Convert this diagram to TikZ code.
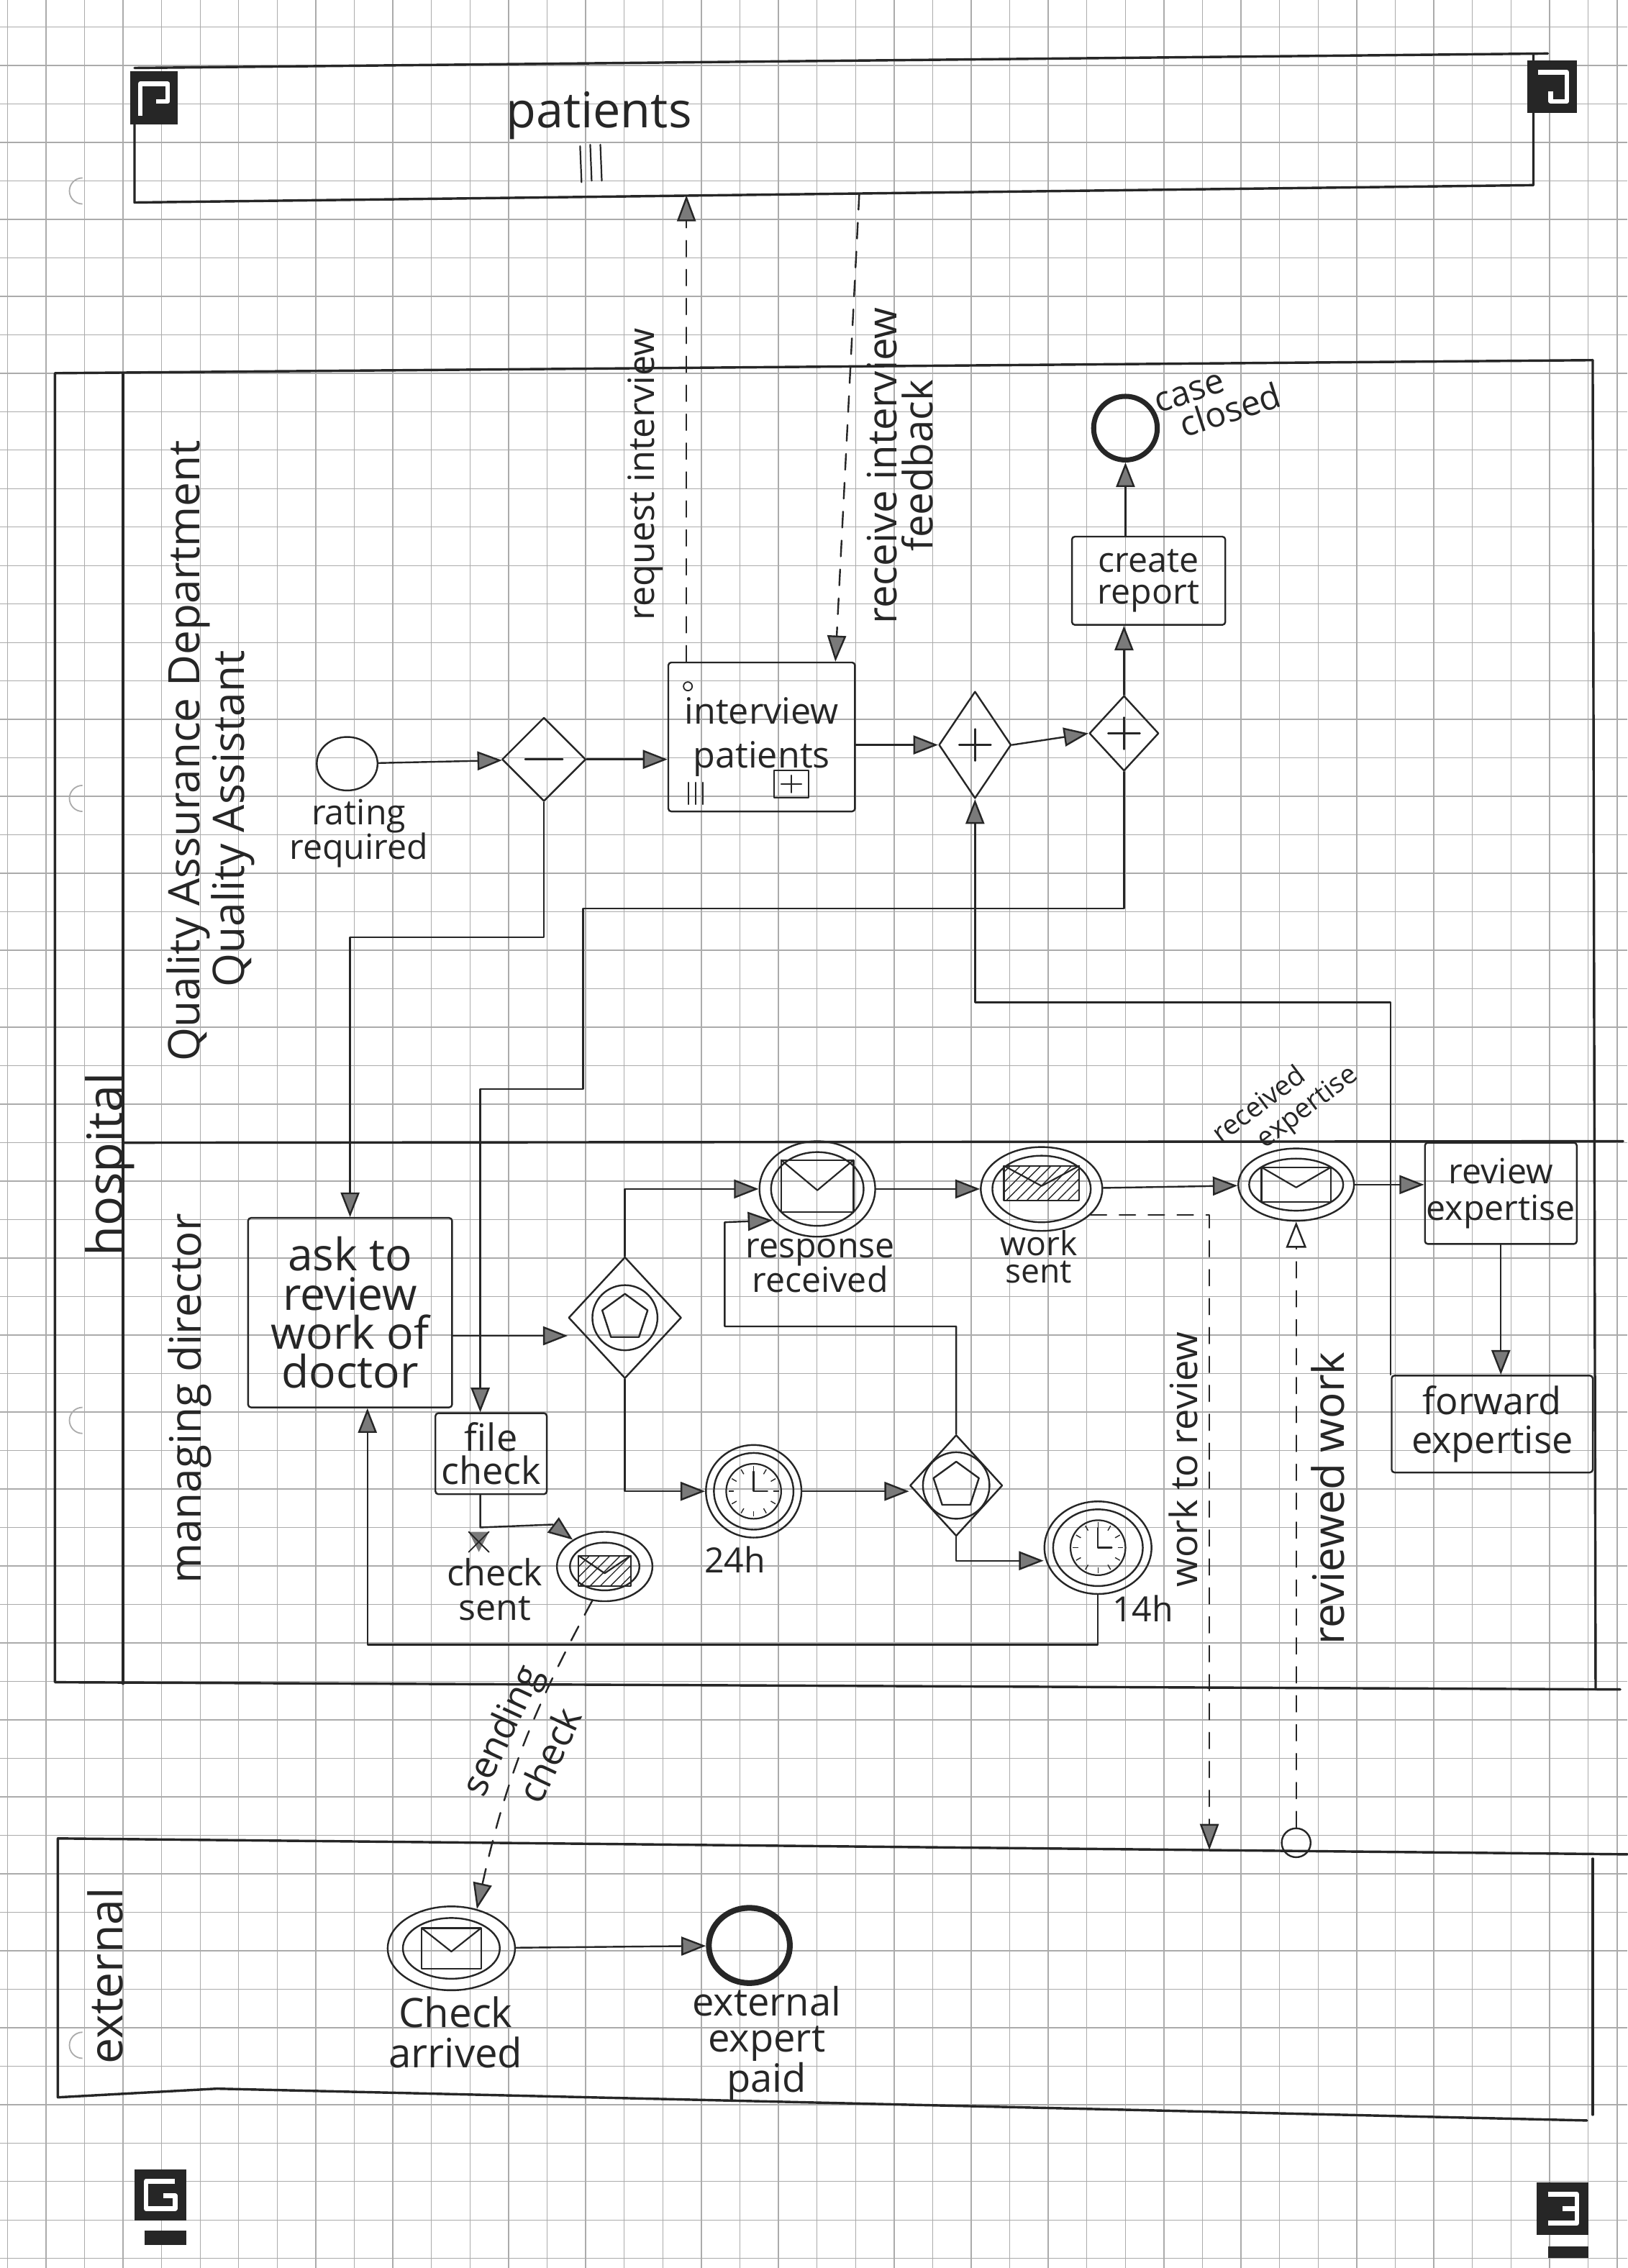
\documentclass[tikz,border=0pt]{standalone}
\usepackage{fontspec}
\setmainfont{Open Sans}
\newfontfamily\hand{Open Sans}
\usetikzlibrary{arrows.meta,shapes.geometric,patterns.meta}

\definecolor{ink}{HTML}{262626}
\definecolor{gridc}{HTML}{ABABAB}
\definecolor{hatchc}{HTML}{7A7A7A}

\tikzset{
  pen/.style={draw=ink, line width=1.2pt, line cap=round, line join=round},
  poolline/.style={draw=ink, line width=1.7pt, line cap=round, line join=round},
  seq/.style={pen, -{Triangle[length=17pt,width=13pt,fill=hatchc]}},
  msg/.style={pen, dash pattern=on 11pt off 9pt, -{Triangle[length=18pt,width=13pt,fill=hatchc]}},
  msgopen/.style={pen, dash pattern=on 11pt off 9pt, -{Triangle[length=18pt,width=14pt,fill=white]}},
  fs/.style 2 args={font=\hand\fontsize{#1}{#2}\selectfont},
  lbl/.style={inner sep=0pt, align=center, text=ink},
  taskbox/.style={pen, rectangle, rounded corners=2pt, inner sep=0pt},
  evt/.style={pen, ellipse, inner sep=0pt},
  gate/.style={pen, diamond, inner sep=0pt, aspect=1},
  penta/.style={pen, regular polygon, regular polygon sides=5, inner sep=0pt},
  hatched/.style={pattern={Lines[angle=45,distance=5pt,line width=0.7pt]}, pattern color=ink},
  pics/envl/.style n args={3}{code={
    \draw[pen, line width=1.1pt, #3] (-#1/2,-#2/2) rectangle (#1/2,#2/2);
    \draw[pen, line width=1.1pt] (-#1/2,-#2/2) -- (0,{0.08*#2}) -- (#1/2,-#2/2);
  }},
  pics/clockface/.style={code={
    \draw[pen, line width=1.1pt] (0,0) circle[radius=#1];
    \foreach \a in {0,30,...,330}
      \draw[ink, line width=0.7pt] (\a:{0.72*#1}) -- (\a:{0.92*#1});
    \draw[pen] (0,{-0.72*#1}) -- (0,0) -- ({0.5*#1},0);
  }},
  plusmark/.style={pen, line width=1.2pt},
}

\begin{document}
\begin{tikzpicture}[x=1pt,y=-1pt]
\useasboundingbox (0,0) rectangle (1125,1568);
\fill[white] (0,0) rectangle (1125,1568);

% squared paper
\foreach \i in {0,...,41}
  \draw[gridc, line width=0.7pt] ({5.1+26.65*\i},0) -- ({5.1+26.65*\i},1568);
\foreach \j in {0,...,58}
  \draw[gridc, line width=0.7pt] (0,{18.6+26.6*\j}) -- (1125,{18.6+26.6*\j});
\draw[gridc, line width=0.7pt] (1118,0) -- (1118,1568);
\foreach \h in {150,570,1000,1432}
  \draw[gridc, line width=0.9pt] (57,{\h-9}) arc[start angle=90,end angle=270,radius=9];

% ---------- pool: patients (collapsed) ----------
\draw[poolline] (93,86) -- (93,140) -- (1060,128) -- (1060,38);
\draw[poolline] (93,47) -- (1070,37);
\node[lbl, fs={34}{34}] (lpat) at (414,80) {patients};
\draw[pen, line width=1.1pt] (401,101) -- (402,126) (408,100) -- (409,125) (415,100) -- (416,125);

% ---------- pool: hospital ----------
\draw[poolline] (1101,249) -- (38,258) -- (38,1163) -- (1120,1168);
\draw[poolline] (85,258) -- (85,1164);
\draw[poolline] (85,790) -- (1122,789);
\draw[poolline] (1101,249) -- (1103,1168);
\node[lbl, fs={34}{34}, rotate=90] (lhosp) at (76,805) {hospital};
\node[lbl, fs={30}{31}, rotate=90, align=left] (lqa) at (145.5,519)
  {Quality Assurance Department\\\hspace*{51pt}Quality Assistant};
\node[lbl, fs={30}{30}, rotate=90] (lmd) at (131,967) {managing director};

% ---------- pool: external ----------
\draw[poolline] (1125,1282) -- (40,1271) -- (40,1450) -- (150,1444) -- (1097,1466);
\draw[poolline] (1101,1285) -- (1101,1462);
\node[lbl, fs={32}{32}, rotate=90] (lext) at (73,1366) {external};

% ---------- quality assistant lane ----------
\node[evt, minimum width=42pt, minimum height=37pt] (st) at (240,528) {};
\node[lbl, fs={24}{24}] (stl) at (248,576) {rating\\required};

\node[gate, minimum width=58pt, minimum height=58pt] (gw1) at (376,525) {};
\draw[plusmark] ([xshift=-13pt]gw1.center) -- ([xshift=13pt]gw1.center);

\node[taskbox, minimum width=129pt, minimum height=103pt, lbl, fs={25}{30}] (ip) at (526.5,509.5) {interview\\patients};
\draw[pen, line width=1pt] (476,541) -- (476,556) (481,541) -- (481,556) (486,541) -- (486,556);
\node[pen, rectangle, minimum width=24pt, minimum height=19pt, inner sep=0pt] (ipsub) at (547,542) {};
\draw[pen, line width=1pt] ([xshift=-7pt]ipsub.center) -- ([xshift=7pt]ipsub.center)
  ([yshift=-6pt]ipsub.center) -- ([yshift=6pt]ipsub.center);
\draw[pen, line width=0.9pt] (475.5,474.5) circle[radius=3];

\node[gate, minimum width=50pt, minimum height=74pt] (gw2) at (674,515) {};
\draw[plusmark] ([xshift=-11pt]gw2.center) -- ([xshift=11pt]gw2.center)
  ([yshift=-11pt]gw2.center) -- ([yshift=11pt]gw2.center);
\node[gate, minimum width=48pt, minimum height=52pt] (gw3) at (777,507) {};
\draw[plusmark] ([xshift=-11pt]gw3.center) -- ([xshift=11pt]gw3.center)
  ([yshift=-11pt]gw3.center) -- ([yshift=11pt]gw3.center);

\node[taskbox, minimum width=106pt, minimum height=61pt, lbl, fs={24}{22}] (cr) at (794,401.5) {create\\report};
\node[evt, line width=3.5pt, minimum size=44pt] (ec) at (778,296) {};
\node[lbl, fs={24}{22}, rotate=18, align=left] (ecl) at (842,277) {case\\\hspace*{12pt}closed};

\node[lbl, fs={25}{25}, rotate=90] (lreq) at (446,328) {request interview};
\node[lbl, fs={28}{25}, rotate=90] (lrcv) at (622,322) {receive interview\\feedback};

% ---------- managing director lane ----------
\node[taskbox, minimum width=141pt, minimum height=131pt, lbl, fs={31}{27}] (ask) at (242,907.5) {ask to\\review\\work of\\doctor};

\node[gate, minimum width=78pt, minimum height=84pt] (eg1) at (432,911) {};
\node[evt, minimum size=45pt] (eg1c) at (eg1) {};
\node[penta, minimum size=33pt] (eg1p) at (eg1) {};

\node[evt, minimum width=66pt, minimum height=64pt] (t24) at (521,1031) {};
\node[evt, minimum width=55pt, minimum height=53pt] (t24i) at (t24) {};
\pic at (t24) {clockface=19};
\node[lbl, fs={24}{24}] (t24l) at (508,1078) {24h};

\node[gate, minimum width=64pt, minimum height=70pt] (eg2) at (661,1027) {};
\node[evt, minimum size=46pt] (eg2c) at (eg2) {};
\node[penta, minimum size=33pt] (eg2p) at (eg2) {};

\node[evt, minimum width=74pt, minimum height=64pt] (t14) at (759,1070) {};
\node[evt, minimum width=62pt, minimum height=53pt] (t14i) at (t14) {};
\pic at (t14) {clockface=19};
\node[lbl, fs={24}{24}] (t14l) at (790,1112) {14h};

\node[evt, minimum width=80pt, minimum height=66pt] (rr) at (565,822) {};
\node[evt, minimum width=64pt, minimum height=51pt] (rri) at (rr) {};
\pic at ([yshift=2pt]rr) {envl={50}{36}{}};
\node[lbl, fs={24}{24}] (rrl) at (567,875) {response\\received};

\node[evt, minimum width=84pt, minimum height=58pt] (ws) at (720,822) {};
\node[evt, minimum width=68pt, minimum height=46pt] (wsi) at (ws) {};
\pic at ([yshift=4pt]ws) {envl={52}{24}{hatched}};
\node[lbl, fs={23}{19}] (wsl) at (718,869) {work\\sent};

\node[evt, minimum width=80pt, minimum height=50pt] (re) at (896,819) {};
\node[evt, minimum width=65pt, minimum height=36pt] (rei) at (re) {};
\pic at (re) {envl={48}{24}{}};
\node[lbl, fs={19}{21}, rotate=37, align=left] (rel) at (889,764) {received\\\hspace*{22pt}expertise};

\node[taskbox, minimum width=105pt, minimum height=70pt, lbl, fs={24}{25}] (rev) at (1037.5,825) {review\\expertise};
\node[taskbox, minimum width=139pt, minimum height=67pt, lbl, fs={26}{27}] (fwd) at (1031.5,984.5) {forward\\expertise};

\node[taskbox, minimum width=77pt, minimum height=56pt, lbl, fs={26}{23}] (fc) at (339.5,1005) {file\\check};
\node[evt, minimum width=66pt, minimum height=48pt] (cs) at (418,1083) {};
\node[evt, minimum width=48pt, minimum height=33pt] (csi) at (cs) {};
\pic at ([yshift=-3pt]cs) {envl={36}{21}{hatched}};
\node[lbl, fs={25}{24}] (csl) at (342,1099) {check\\sent};

\node[lbl, fs={26}{26}, rotate=90] (lwtr) at (818,1009) {work to review};
\node[lbl, fs={30}{30}, rotate=90] (lrw) at (918,1036) {reviewed work};
\node[lbl, fs={26}{38}, rotate=65, align=left] (lsnd) at (363,1204) {sending\\\hspace*{12pt}check};

% ---------- external participant ----------
\node[evt, minimum width=88pt, minimum height=58pt] (ca) at (312,1347) {};
\node[evt, minimum width=67pt, minimum height=42pt] (cai) at (ca) {};
\pic at (ca) {envl={41}{28}{}};
\node[lbl, fs={28}{28}] (cal) at (315,1405) {Check\\arrived};
\node[evt, line width=4pt, minimum width=56pt, minimum height=52pt] (ee) at (518,1345) {};
\node[lbl, fs={27}{25}] (eel) at (530,1413) {external\\expert\\paid};
\node[pen, circle, minimum size=20pt, inner sep=0pt] (rwc) at (896,1274) {};

% ---------- bend points ----------
\coordinate (k1) at (242,648);
\coordinate (k2) at (403,628);
\coordinate (k3) at (332,753);
\coordinate (k4) at (501,917);
\coordinate (k5) at (501,845);
\coordinate (k6) at (254,1137);
\coordinate (k7) at (674,693);
\coordinate (k8) at (332,1056);
\coordinate (k9) at (382,1054);
\coordinate (m1) at (474.5,135);
\coordinate (m2) at (594,134);
\coordinate (m3) at (836,1279);

% ---------- sequence flows ----------
\draw[seq] (st) -- (gw1);
\draw[seq] (gw1.east) -- (gw1.east -| ip.west);
\draw[seq] (gw2.west -| ip.east) -- (gw2.west);
\draw[seq] (gw2.east) -- (gw3.west);
\draw[seq] (gw3.north) -- (gw3.north |- cr.south);
\draw[seq] (ec.south |- cr.north) -- (ec.south);
\draw[seq] (gw1.south) |- (k1) -- (ask.north);
\draw[seq] (gw3.south) |- (k2) |- (k3) -- (k3 |- fc.north);
\draw[seq] ([yshift=-16pt]ask.east) -- ([yshift=-16pt]ask.east -| eg1.west);
\draw[seq] (eg1.north) |- (rr.west);
\draw[seq] (eg1.south) |- (t24.west);
\draw[seq] (t24.east) -- (t24.east -| eg2.west);
\draw[seq] (eg2.north) |- (k4) -- (k5) -- (rr.215);
\draw[seq] (eg2.south) |- ([yshift=-9pt]t14.west);
\draw[seq] (t14.south) |- (k6) -- (k6 |- ask.south);
\draw[seq] (rr) -- (ws);
\draw[seq] (ws) -- (re);
\draw[seq] (re.east) -- (re.east -| rev.west);
\draw[seq] (rev.south) -- (rev.south |- fwd.north);
\draw[seq] (fwd.north west) |- (k7) -- (gw2.south);
\draw[seq] (fc.south -| k8) -- (k8) -- (k9) -- (cs.140);
\draw[seq] (ca) -- (ee);
% struck-out arrow tip under "file check"
\fill[hatchc] (324,1059) -- (338,1059) -- (331,1073) -- cycle;
\draw[pen, line width=0.9pt] (324,1059) -- (338,1073) (338,1059) -- (324,1073);

% ---------- message flows ----------
\draw[msg] (ip.north -| m1) -- (m1);
\draw[msg] (m2) -- ([xshift=51pt]ip.north);
\draw[msg] (ws.-28) -| (m3);
\draw[msgopen] (rwc.north) -- (re.south);
\draw[msg] (cs.250) to[bend right=8] (ca.57);

% ---------- sheet corner marks ----------
\fill[ink] (90,49) rectangle (123,86);
\draw[white, line width=3.2pt, line join=round] (97,80) -- (97,58) -- (116,58) -- (116,70) -- (108,70);
\fill[ink] (1056,42) rectangle (1090,78);
\draw[white, line width=3.2pt, line join=round] (1063,50) -- (1083,50) -- (1083,70) -- (1072,70) -- (1072,63);
\fill[ink] (93,1500) rectangle (129,1535);
\fill[ink] (100,1542) rectangle (129,1552);
\draw[white, line width=3.2pt, line join=round] (121,1508) -- (101,1508) -- (101,1527) -- (121,1527) -- (121,1518) -- (113,1518);
\fill[ink] (1062,1509) rectangle (1098,1545);
\fill[ink] (1070,1553) rectangle (1098,1561);
\draw[white, line width=3.2pt, line join=round] (1070,1517) -- (1090,1517) -- (1090,1537) -- (1070,1537) (1080,1527) -- (1090,1527);
\end{tikzpicture}
\end{document}
